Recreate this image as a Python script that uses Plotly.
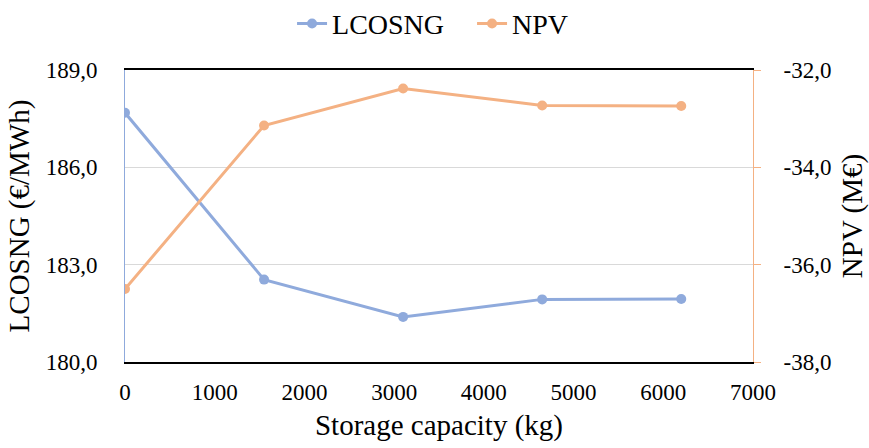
import plotly.graph_objects as go

# Storage capacity (kg) and the two economic indicators
capacity = [0, 1550, 3100, 4650, 6200]
lcosng = [187.68, 182.54, 181.39, 181.93, 181.94]   # €/MWh
npv = [-36.50, -33.14, -32.38, -32.73, -32.74]      # M€

x_ticks = [0, 1000, 2000, 3000, 4000, 5000, 6000, 7000]
left_ticks = [180.0, 183.0, 186.0, 189.0]
right_ticks = [-38.0, -36.0, -34.0, -32.0]


def comma(v):
    return f"{v:.1f}".replace(".", ",")


BLUE = "#8FAADC"
ORANGE = "#F4B183"
FONT = "Liberation Serif"
TICK = 23
TITLE = 29

fig = go.Figure()
fig.add_trace(go.Scatter(
    x=capacity, y=lcosng, name="LCOSNG", mode="lines+markers",
    line=dict(color=BLUE, width=3), marker=dict(color=BLUE, size=10),
    yaxis="y",
))
fig.add_trace(go.Scatter(
    x=capacity, y=npv, name="NPV", mode="lines+markers",
    line=dict(color=ORANGE, width=3), marker=dict(color=ORANGE, size=10),
    yaxis="y2",
))

fig.update_layout(
    width=869, height=448,
    margin=dict(l=125, r=116, t=70, b=86, autoexpand=False),
    paper_bgcolor="white", plot_bgcolor="white",
    font=dict(family=FONT, size=TICK, color="black"),
    showlegend=True,
    legend=dict(
        orientation="h", x=0.266, xanchor="left", y=1.158, yanchor="middle",
        font=dict(family=FONT, size=28, color="black"),
        entrywidth=135, entrywidthmode="pixels",
    ),
    xaxis=dict(
        range=[0, 7000], tickvals=x_ticks, ticktext=[str(v) for v in x_ticks],
        showline=True, linecolor="black", linewidth=1.5, mirror=True,
        showgrid=False, zeroline=False, ticks="", ticklabelstandoff=9,
        tickfont=dict(family=FONT, size=TICK, color="black"),
        title=dict(text="Storage capacity (kg)", font=dict(family=FONT, size=TITLE, color="black"), standoff=10),
    ),
    yaxis=dict(
        range=[180, 189], tickvals=left_ticks, ticktext=[comma(v) for v in left_ticks],
        showline=True, linecolor=BLUE, linewidth=1,
        showgrid=True, gridcolor="#D9D9D9", gridwidth=1, zeroline=False, ticks="",
        ticklabelstandoff=22,
        tickfont=dict(family=FONT, size=TICK, color="black"),
        title=dict(text="LCOSNG (€/MWh)", font=dict(family=FONT, size=TITLE, color="black"), standoff=7),
    ),
    yaxis2=dict(
        range=[-38, -32], tickvals=right_ticks, ticktext=[comma(v) for v in right_ticks],
        overlaying="y", side="right",
        showline=True, linecolor=ORANGE, linewidth=1,
        showgrid=False, zeroline=False, ticks="outside", tickcolor=ORANGE, ticklen=7,
        ticklabelstandoff=18,
        tickfont=dict(family=FONT, size=TICK, color="black"),
        title=dict(text="NPV (M€)", font=dict(family=FONT, size=TITLE, color="black"), standoff=12),
    ),
)

fig.write_html("out.html")
